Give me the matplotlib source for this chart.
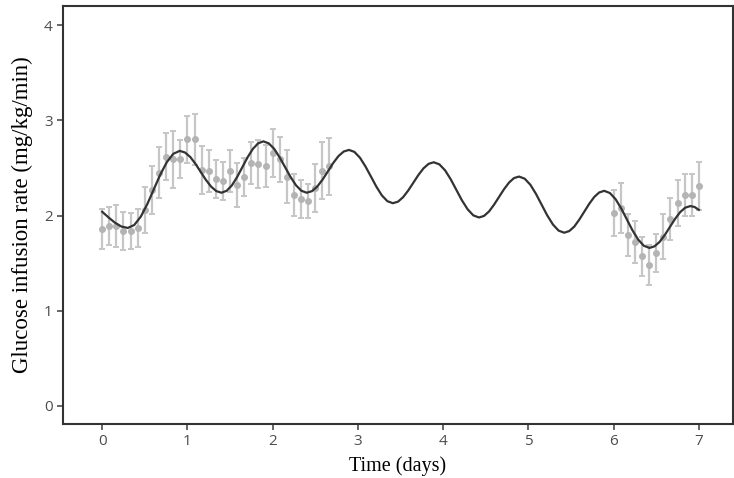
import numpy as np
import matplotlib
matplotlib.use("Agg")
import matplotlib.pyplot as plt

# measured points (time in hours), mean and error
saat_a = [0, 2, 4, 6, 8, 10, 12, 14, 16, 18, 20, 22, 24, 26, 28, 30, 32,
          34, 36, 38, 40, 42, 44, 46, 48, 50, 52, 54, 56, 58, 60, 62, 64]
deger_a = [1.86, 1.89, 1.89, 1.84, 1.84, 1.87, 2.06, 2.27, 2.45, 2.62, 2.59,
           2.59, 2.80, 2.80, 2.48, 2.47, 2.38, 2.36, 2.47, 2.32, 2.41, 2.55,
           2.54, 2.52, 2.66, 2.59, 2.41, 2.22, 2.17, 2.15, 2.29, 2.47, 2.52]
hata_a = [0.21, 0.20, 0.22, 0.20, 0.19, 0.20, 0.24, 0.25, 0.27, 0.25, 0.30,
          0.20, 0.25, 0.27, 0.25, 0.22, 0.20, 0.20, 0.22, 0.23, 0.20, 0.22,
          0.25, 0.22, 0.25, 0.24, 0.28, 0.22, 0.20, 0.18, 0.25, 0.30, 0.30]

saat_b = [144, 146, 148, 150, 152, 154, 156, 158, 160, 162, 164, 166, 168]
deger_b = [2.03, 2.08, 1.80, 1.72, 1.57, 1.48, 1.61, 1.78, 1.96, 2.13, 2.22,
           2.22, 2.31]
hata_b = [0.24, 0.26, 0.22, 0.22, 0.20, 0.21, 0.20, 0.24, 0.22, 0.24, 0.22,
          0.22, 0.25]

# model curve (days, value)
egri_gun = [0.000, 0.075, 0.150, 0.225, 0.300,
            0.376, 0.453, 0.529, 0.605, 0.681, 0.758, 0.834, 0.910,
            0.971, 1.033, 1.094, 1.155, 1.216, 1.278, 1.339, 1.400,
            1.461, 1.523, 1.584, 1.645, 1.706, 1.768, 1.829, 1.890,
            1.954, 2.018, 2.081, 2.145, 2.209, 2.273, 2.336, 2.400,
            2.462, 2.524, 2.586, 2.648, 2.709, 2.771, 2.833, 2.895,
            2.959, 3.024, 3.088, 3.153, 3.217, 3.281, 3.346, 3.410,
            3.470, 3.530, 3.590, 3.650, 3.710, 3.770, 3.830, 3.890,
            3.956, 4.023, 4.089, 4.155, 4.221, 4.288, 4.354, 4.420,
            4.479, 4.538, 4.596, 4.655, 4.714, 4.773, 4.831, 4.890,
            4.956, 5.023, 5.089, 5.155, 5.221, 5.288, 5.354, 5.420,
            5.479, 5.538, 5.596, 5.655, 5.714, 5.773, 5.831, 5.890,
            5.956, 6.023, 6.089, 6.155, 6.221, 6.288, 6.354, 6.420,
            6.480, 6.540, 6.600, 6.660, 6.720, 6.780, 6.840, 6.900,
            6.950, 7.000]
egri_deger = [2.040, 1.980, 1.925, 1.885, 1.870,
              1.901, 1.989, 2.120, 2.275, 2.430, 2.561, 2.649, 2.680,
              2.663, 2.616, 2.544, 2.460, 2.376, 2.304, 2.257, 2.240,
              2.261, 2.319, 2.407, 2.510, 2.613, 2.701, 2.759, 2.780,
              2.759, 2.701, 2.613, 2.510, 2.407, 2.319, 2.261, 2.240,
              2.257, 2.306, 2.379, 2.465, 2.551, 2.624, 2.673, 2.690,
              2.669, 2.608, 2.517, 2.410, 2.303, 2.212, 2.151, 2.130,
              2.146, 2.193, 2.263, 2.345, 2.427, 2.497, 2.544, 2.560,
              2.538, 2.475, 2.381, 2.270, 2.159, 2.065, 2.002, 1.980,
              1.996, 2.043, 2.113, 2.195, 2.277, 2.347, 2.394, 2.410,
              2.388, 2.324, 2.228, 2.115, 2.002, 1.906, 1.842, 1.820,
              1.837, 1.884, 1.956, 2.040, 2.124, 2.196, 2.243, 2.260,
              2.237, 2.172, 2.075, 1.960, 1.845, 1.748, 1.683, 1.660,
              1.677, 1.724, 1.796, 1.880, 1.964, 2.036, 2.083, 2.100,
              2.090, 2.060]

fig = plt.figure(figsize=(7.34, 4.78), dpi=100)
ax = fig.add_axes([0.0858, 0.113, 0.9128, 0.874])

for saat, deger, hata in [(saat_a, deger_a, hata_a), (saat_b, deger_b, hata_b)]:
    gun = np.array(saat) / 24.0
    ax.errorbar(gun, deger, yerr=hata, fmt="o", color="#b4b4b4",
                ecolor="#c6c6c6", elinewidth=1.6, capsize=2.5, capthick=1.4,
                markersize=4, zorder=2)

ax.plot(egri_gun, egri_deger, color="#333333", linewidth=1.6, zorder=3,
        solid_joinstyle="round")

ax.set_xlim(-0.46, 7.4)
ax.set_ylim(-0.19, 4.2)
ax.set_xticks(range(8))
ax.set_yticks(range(5))

for sp in ax.spines.values():
    sp.set_color("#333333")
    sp.set_linewidth(1.5)

ax.tick_params(axis="both", colors="#4d4d4d", labelsize=11, length=4,
               width=1.2)
for lab in ax.get_xticklabels() + ax.get_yticklabels():
    lab.set_fontfamily("Open Sans")

ax.set_xlabel("Time (days)", family="Liberation Serif", fontsize=14.5,
              color="black", labelpad=5)
ax.set_ylabel("Glucose infusion rate (mg/kg/min)", family="Liberation Serif",
              fontsize=16.5, color="black", labelpad=8)

plt.savefig("out.png", dpi=100)
